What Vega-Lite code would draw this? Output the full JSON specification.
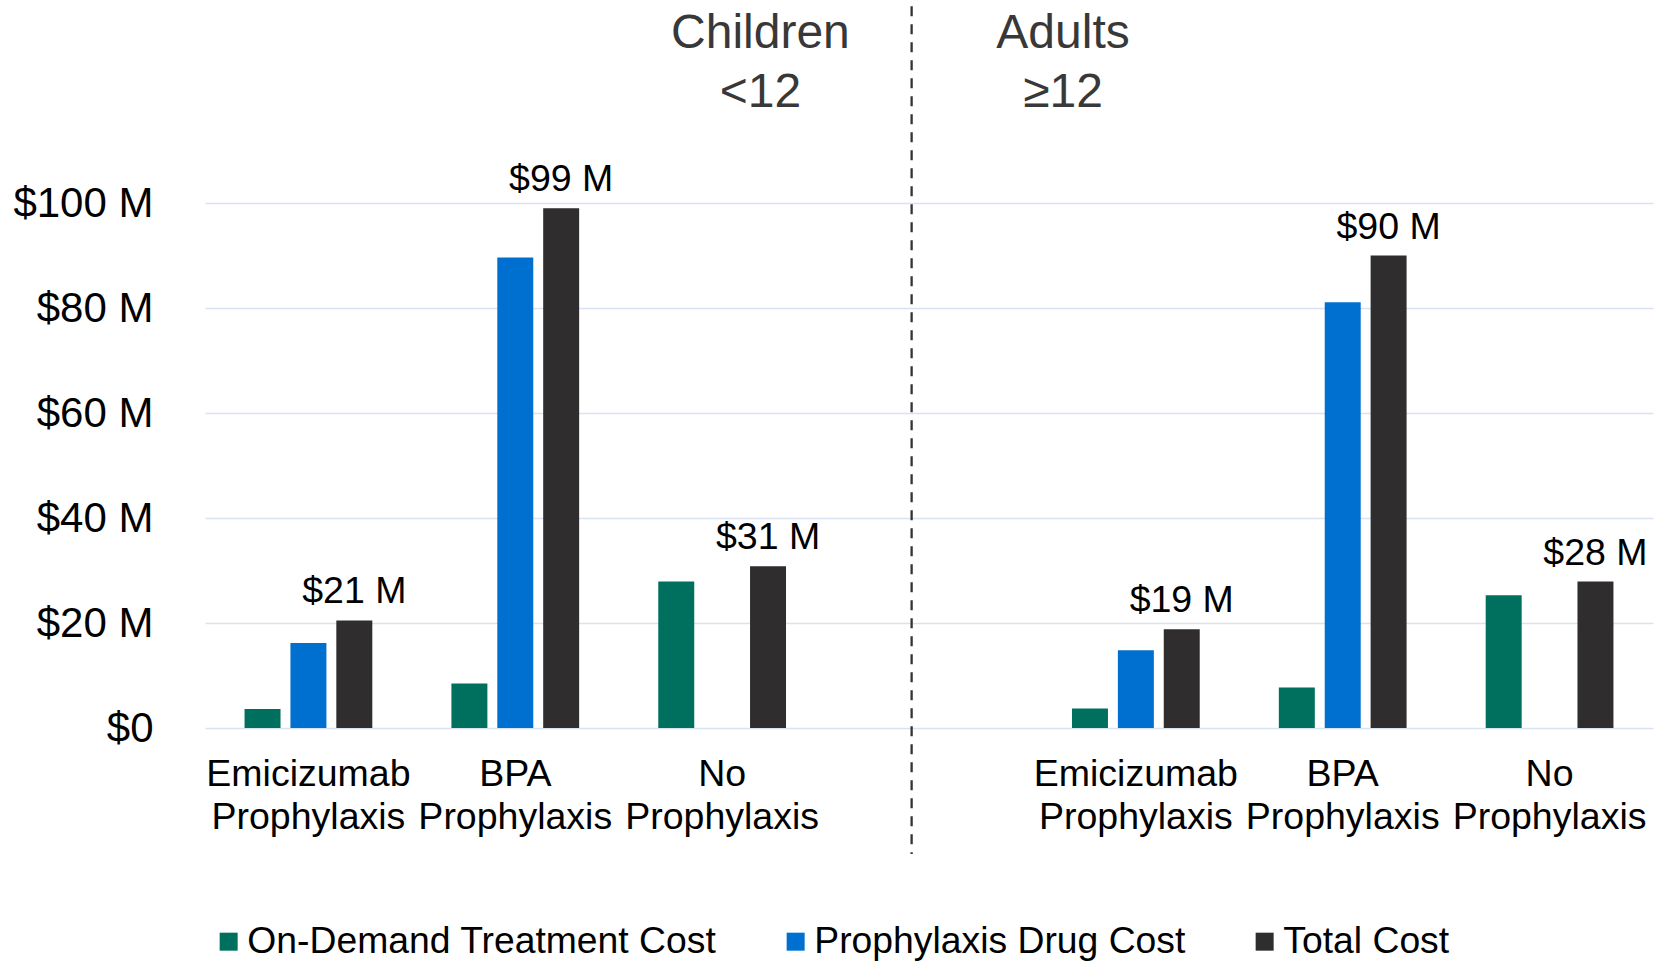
{
  "$schema": "https://vega.github.io/schema/vega-lite/v6.json",
  "width": 1448,
  "height": 525,
  "autosize": {"type": "none"},
  "padding": {"left": 205, "top": 203, "right": 10, "bottom": 234},
  "background": "white",
  "config": {"view": {"stroke": null}, "font": "Liberation Sans"},
  "datasets": {
    "bars": [
      {"cat": "Emicizumab|Prophylaxis|C", "series": "On-Demand Treatment Cost", "value": 3.6},
      {"cat": "Emicizumab|Prophylaxis|C", "series": "Prophylaxis Drug Cost", "value": 16.2},
      {"cat": "Emicizumab|Prophylaxis|C", "series": "Total Cost", "value": 20.5, "label": "$21 M"},
      {"cat": "BPA|Prophylaxis|C", "series": "On-Demand Treatment Cost", "value": 8.5},
      {"cat": "BPA|Prophylaxis|C", "series": "Prophylaxis Drug Cost", "value": 89.6},
      {"cat": "BPA|Prophylaxis|C", "series": "Total Cost", "value": 99.0, "label": "$99 M"},
      {"cat": "No|Prophylaxis|C", "series": "On-Demand Treatment Cost", "value": 27.9},
      {"cat": "No|Prophylaxis|C", "series": "Total Cost", "value": 30.8, "label": "$31 M"},
      {"cat": "Emicizumab|Prophylaxis|A", "series": "On-Demand Treatment Cost", "value": 3.7},
      {"cat": "Emicizumab|Prophylaxis|A", "series": "Prophylaxis Drug Cost", "value": 14.8},
      {"cat": "Emicizumab|Prophylaxis|A", "series": "Total Cost", "value": 18.8, "label": "$19 M"},
      {"cat": "BPA|Prophylaxis|A", "series": "On-Demand Treatment Cost", "value": 7.7},
      {"cat": "BPA|Prophylaxis|A", "series": "Prophylaxis Drug Cost", "value": 81.1},
      {"cat": "BPA|Prophylaxis|A", "series": "Total Cost", "value": 90.0, "label": "$90 M"},
      {"cat": "No|Prophylaxis|A", "series": "On-Demand Treatment Cost", "value": 25.3},
      {"cat": "No|Prophylaxis|A", "series": "Total Cost", "value": 27.9, "label": "$28 M"}
    ],
    "divider": [{"cat": "gap", "y1": 137.5, "y2": -24}],
    "childrenTitle": [
      {"cat": "No|Prophylaxis|C", "y": 129.5, "text": "Children"},
      {"cat": "No|Prophylaxis|C", "y": 118.3, "text": "<12"}
    ],
    "adultsTitle": [
      {"cat": "Emicizumab|Prophylaxis|A", "y": 129.5, "text": "Adults"},
      {"cat": "Emicizumab|Prophylaxis|A", "y": 118.3, "text": "≥12"}
    ]
  },
  "layer": [
    {
      "data": {"name": "bars"},
      "mark": {"type": "bar"},
      "encoding": {
        "x": {
          "field": "cat", "type": "nominal",
          "scale": {
            "domain": ["Emicizumab|Prophylaxis|C", "BPA|Prophylaxis|C", "No|Prophylaxis|C", "gap", "Emicizumab|Prophylaxis|A", "BPA|Prophylaxis|A", "No|Prophylaxis|A"],
            "paddingInner": 0, "paddingOuter": 0
          },
          "axis": {
            "title": null, "labelAngle": 0, "domain": false, "ticks": false, "tickSize": 0,
            "labelPadding": 27, "labelFontSize": 37.5, "labelColor": "#000000", "labelLineHeight": 43,
            "labelLimit": 0, "grid": false,
            "labelExpr": "datum.value == 'gap' ? '' : slice(split(datum.value, '|'), 0, 2)"
          }
        },
        "xOffset": {
          "field": "series", "type": "nominal",
          "scale": {"domain": ["On-Demand Treatment Cost", "Prophylaxis Drug Cost", "Total Cost"], "paddingInner": 0.216, "paddingOuter": 0.862}
        },
        "y": {
          "field": "value", "type": "quantitative",
          "scale": {"domain": [0, 100], "nice": false},
          "axis": {
            "title": null, "values": [0, 20, 40, 60, 80, 100],
            "labelExpr": "datum.value == 0 ? '$0' : '$' + datum.value + ' M'",
            "labelFontSize": 42, "labelColor": "#000000", "domain": false, "ticks": false, "tickSize": 0,
            "labelPadding": 52, "gridColor": "#d9e2f3", "gridWidth": 1.5
          }
        },
        "color": {
          "field": "series", "type": "nominal",
          "scale": {"domain": ["On-Demand Treatment Cost", "Prophylaxis Drug Cost", "Total Cost"], "range": ["#00705e", "#0070d0", "#2f2d2e"]},
          "legend": {
            "orient": "none", "legendX": 5, "legendY": 720, "direction": "horizontal", "title": null,
            "symbolType": "square", "symbolSize": 324, "symbolStrokeWidth": 0,
            "labelFontSize": 37.3, "labelColor": "#000000", "columnPadding": 60, "labelOffset": 0, "labelLimit": 0
          }
        }
      }
    },
    {
      "data": {"name": "bars"},
      "transform": [{"filter": "isValid(datum.label)"}],
      "mark": {"type": "text", "fontSize": 37.5, "color": "#000000", "baseline": "alphabetic", "dy": -17},
      "encoding": {
        "x": {"field": "cat", "type": "nominal"},
        "xOffset": {"field": "series", "type": "nominal"},
        "y": {"field": "value", "type": "quantitative"},
        "text": {"field": "label"}
      }
    },
    {
      "data": {"name": "divider"},
      "mark": {"type": "rule", "strokeDash": [10, 8], "strokeWidth": 2.3, "color": "#333333"},
      "encoding": {
        "x": {"field": "cat", "type": "nominal", "bandPosition": 0.416},
        "y": {"field": "y1", "type": "quantitative"},
        "y2": {"field": "y2"}
      }
    },
    {
      "data": {"name": "childrenTitle"},
      "mark": {"type": "text", "fontSize": 48, "color": "#383838", "baseline": "alphabetic", "align": "center"},
      "encoding": {
        "x": {"field": "cat", "type": "nominal", "bandPosition": 0.685},
        "y": {"field": "y", "type": "quantitative"},
        "text": {"field": "text"}
      }
    },
    {
      "data": {"name": "adultsTitle"},
      "mark": {"type": "text", "fontSize": 48, "color": "#383838", "baseline": "alphabetic", "align": "center"},
      "encoding": {
        "x": {"field": "cat", "type": "nominal", "bandPosition": 0.148},
        "y": {"field": "y", "type": "quantitative"},
        "text": {"field": "text"}
      }
    }
  ]
}
